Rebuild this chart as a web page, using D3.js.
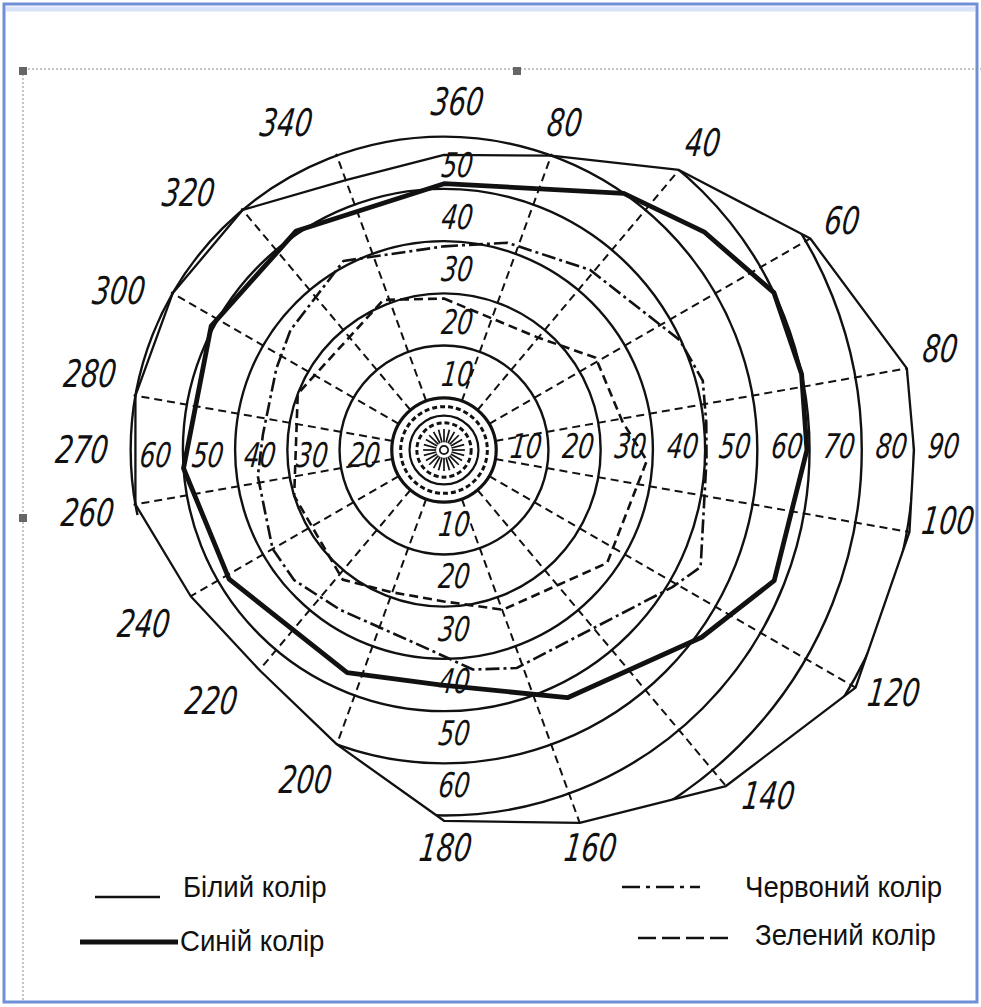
<!DOCTYPE html>
<html>
<head>
<meta charset="utf-8">
<script src="https://cdn.jsdelivr.net/npm/d3@7"></script>
<style>
  body { margin: 0; background: #fff; }
  svg { display: block; }
  .num { font-family: "DejaVu Sans Condensed", "DejaVu Sans", sans-serif; font-style: italic; fill: #111; }
  .legend text { font-family: "Liberation Sans", Arial, sans-serif; fill: #111; }
</style>
</head>
<body>
<svg id="drawing_region"></svg>
<script>
// grid of the perimeter chart (degrees from fixation)
const rings = [10, 20, 30, 40, 50, 60, 70, 80, 90];
const meridians = [20, 40, 60, 80, 100, 120, 140, 160, 200, 220, 240, 260, 280, 300, 320, 340];
const centreRings = [5.2, 6.6, 8.3];
const centreDashed = [true, false, true];

// meridian labels (as printed)
const meridianLabelAngles = [0, 20, 40, 60, 80, 100, 120, 140, 160, 180, 200, 220, 240, 260, 270, 280, 300, 320, 340];
const meridianLabels = ["360", "80", "40", "60", "80", "100", "120", "140", "160", "180", "200", "220", "240", "260", "270", "280", "300", "320", "340"];

// ring labels on the four sides
const ringLabelsRight = [10, 20, 30, 40, 50, 60, 70, 80, 90];
const ringLabelsLeft = [60, 50, 40, 30, 20];
const ringLabelsTop = [10, 20, 30, 40, 50];
const ringLabelsBottom = [10, 20, 30, 40, 50, 60];

// isopters: meridian angle (deg, clockwise from top) and field limit (deg)
const whiteAngles = [0, 20, 40, 60, 80, 90, 100, 120, 140, 160, 180, 200, 220, 240, 260, 280, 300, 320, 340];
const whiteValues = [56.5, 60, 70, 81, 90, 90, 90.5, 91, 84, 76, 71, 60, 55, 56, 60, 60, 60, 60, 55];

const blueAngles = [0, 35, 50, 64.5, 78, 90, 111.6, 126, 153.5, 181, 203.5, 239, 266, 298, 326];
const blueValues = [51, 60, 65, 70, 70, 69.5, 68, 61, 53, 45, 46.5, 48, 50, 50.5, 50.6];

const redAngles = [0, 17, 39, 65, 75, 84, 92, 114.5, 121, 161.6, 172.5, 186, 213, 229, 240, 262, 275, 296, 308, 332];
const redValues = [39, 41.5, 44.4, 49.8, 51.3, 50.5, 50.3, 54, 51, 44, 42.4, 37.9, 36.5, 38, 37.9, 36, 34.8, 35.7, 37.3, 41];

const greenAngles = [0, 39.5, 58.7, 81, 93, 124.7, 159.8, 180, 200, 218, 253, 291, 338];
const greenValues = [29, 28, 34, 34.6, 38.9, 38, 32.6, 29, 29, 31.5, 30, 30, 31];

const legendNames = ["Білий колір", "Синій колір", "Червоний колір", "Зелений колір"];

const config = {
    width: 981,
    height: 1007,
    cx: 444,
    cy: 450
};

const rad = a => a * Math.PI / 180;
const toPoints = (angles, values) => angles.map((a, i) => ({ a: a, v: values[i] }));
// narrow, slanted drawing-style digits
const numTransform = (x, y) => `translate(${x},${y}) skewX(-7) scale(0.8,1)`;

const svg = d3.select('#drawing_region')
    .attr('width', config.width)
    .attr('height', config.height);

// window frame and selection box
svg.append('rect')
    .attr('x', 4).attr('y', 4)
    .attr('width', 973).attr('height', 998)
    .attr('fill', 'none')
    .attr('stroke', '#6f8fd6')
    .attr('stroke-width', 3);
svg.append('line')
    .attr('x1', 6).attr('x2', 975).attr('y1', 9).attr('y2', 9)
    .attr('stroke', '#d9e3f7').attr('stroke-width', 5);
svg.append('path')
    .attr('d', 'M23,1000 V69 H981')
    .attr('fill', 'none')
    .attr('stroke', '#8a8a8a')
    .attr('stroke-width', 1)
    .attr('stroke-dasharray', '2,2');
[[23, 71], [517, 71], [23, 518]].forEach(p => {
    svg.append('rect')
        .attr('x', p[0] - 4).attr('y', p[1] - 4)
        .attr('width', 8).attr('height', 8)
        .attr('fill', '#666');
});

const r = d3.scaleLinear()
    .domain([0, 90])
    .range([0, 470]);

const chart = svg.append('g')
    .attr('transform', `translate(${config.cx}, ${config.cy})`);

const white = toPoints(whiteAngles, whiteValues);
const blue = toPoints(blueAngles, blueValues);
const red = toPoints(redAngles, redValues);
const green = toPoints(greenAngles, greenValues);

const radial = d3.lineRadial()
    .angle(d => rad(d.a))
    .radius(d => r(d.v))
    .curve(d3.curveLinearClosed);

// clip grid to the outer field (plus the 60 deg circle at the top)
const clip = svg.append('defs').append('clipPath').attr('id', 'field');
clip.append('path').attr('d', radial(white));
clip.append('path').attr('d', d3.arc()
    .innerRadius(0)
    .outerRadius(r(60) + 2)
    .startAngle(rad(258))
    .endAngle(rad(382))());

const grid = chart.append('g').attr('clip-path', 'url(#field)');

grid.selectAll('circle.ring')
    .data(rings)
    .enter()
    .append('circle')
    .attr('class', 'ring')
    .attr('r', d => r(d))
    .attr('fill', 'none')
    .attr('stroke', '#111')
    .attr('stroke-width', d => d == 10 ? 3.2 : 2.4);

grid.selectAll('line.meridian')
    .data(meridians)
    .enter()
    .append('line')
    .attr('class', 'meridian')
    .attr('x1', d => r(10) * Math.sin(rad(d)))
    .attr('y1', d => -r(10) * Math.cos(rad(d)))
    .attr('x2', d => r(100) * Math.sin(rad(d)))
    .attr('y2', d => -r(100) * Math.cos(rad(d)))
    .attr('stroke', '#111')
    .attr('stroke-width', 2)
    .attr('stroke-dasharray', '8,5');

// small marks inside 10 deg
chart.selectAll('circle.centre')
    .data(centreRings)
    .enter()
    .append('circle')
    .attr('class', 'centre')
    .attr('r', d => r(d))
    .attr('fill', 'none')
    .attr('stroke', '#111')
    .attr('stroke-width', (d, i) => centreDashed[i] ? 3 : 2.2)
    .attr('stroke-dasharray', (d, i) => centreDashed[i] ? '5,3' : null);

chart.selectAll('line.spike')
    .data(d3.range(0, 360, 15))
    .enter()
    .append('line')
    .attr('class', 'spike')
    .attr('x1', d => r(1.5) * Math.sin(rad(d)))
    .attr('y1', d => -r(1.5) * Math.cos(rad(d)))
    .attr('x2', d => r(4) * Math.sin(rad(d)))
    .attr('y2', d => -r(4) * Math.cos(rad(d)))
    .attr('stroke', '#111')
    .attr('stroke-width', 1.7);

chart.append('circle')
    .attr('r', r(0.8))
    .attr('fill', 'none')
    .attr('stroke', '#111')
    .attr('stroke-width', 1.7);

// isopters
const styles = [
    { data: white, width: 2.3, dash: null },
    { data: blue, width: 4.8, dash: null },
    { data: red, width: 2.6, dash: '14,4,3,4' },
    { data: green, width: 2.6, dash: '9,5' }
];

chart.selectAll('path.isopter')
    .data(styles)
    .enter()
    .append('path')
    .attr('class', 'isopter')
    .attr('d', d => radial(d.data))
    .attr('fill', 'none')
    .attr('stroke', '#111')
    .attr('stroke-width', d => d.width)
    .attr('stroke-linejoin', 'round')
    .attr('stroke-dasharray', d => d.dash);

// ring labels
chart.selectAll('text.rr')
    .data(ringLabelsRight)
    .enter()
    .append('text')
    .attr('class', 'num')
    .attr('transform', d => numTransform(r(d) + 13, 8))
    .attr('font-size', 34)
    .text(d => d);

chart.selectAll('text.rl')
    .data(ringLabelsLeft)
    .enter()
    .append('text')
    .attr('class', 'num')
    .attr('transform', d => numTransform(-r(d) + 8, 17))
    .attr('font-size', 34)
    .text(d => d);

chart.selectAll('text.rt')
    .data(ringLabelsTop)
    .enter()
    .append('text')
    .attr('class', 'num')
    .attr('transform', d => numTransform(12, -r(d) - 12))
    .attr('text-anchor', 'middle')
    .attr('font-size', 34)
    .text(d => d);

chart.selectAll('text.rb')
    .data(ringLabelsBottom)
    .enter()
    .append('text')
    .attr('class', 'num')
    .attr('transform', d => numTransform(9, r(d) + 34))
    .attr('text-anchor', 'middle')
    .attr('font-size', 34)
    .text(d => d);

// meridian labels just outside the field limit (small hand-placement turns)
const whiteAt = a => {
    const i = whiteAngles.indexOf(a);
    return i >= 0 ? whiteValues[i] : 60;
};
const labelTurns = { 0: 2, 80: -1.5, 100: -2, 120: -1.5, 140: -3, 200: 3, 220: 3, 280: 2, 300: -4, 320: -5, 340: -6 };
const labelGaps = { 200: 45, 220: 30 };
const labelGap = a => labelGaps[a] || ((a >= 250 && a <= 350) ? 50 : (a >= 150 && a <= 190) ? 27 : 35);
const labelTurn = a => labelTurns[a] || 0;
const labelR = a => r(Math.max(whiteAt(a), 60)) + labelGap(a);

chart.selectAll('text.mer')
    .data(meridianLabelAngles)
    .enter()
    .append('text')
    .attr('class', 'num')
    .attr('transform', d => numTransform(
        labelR(d) * Math.sin(rad(d + labelTurn(d))),
        -labelR(d) * Math.cos(rad(d + labelTurn(d))) + 13))
    .attr('text-anchor', 'middle')
    .attr('font-size', 38)
    .text((d, i) => meridianLabels[i]);

// legend
const legend = svg.append('g').attr('class', 'legend');
const legendItems = [
    { x1: 95, x2: 160, y: 897, tx: 183, ty: 897, width: 2.3, dash: null },
    { x1: 80, x2: 178, y: 942, tx: 180, ty: 951, width: 4.8, dash: null },
    { x1: 622, x2: 700, y: 887, tx: 745, ty: 897, width: 2.6, dash: '18,6,4,6' },
    { x1: 638, x2: 728, y: 938, tx: 755, ty: 945, width: 2.6, dash: '18,6' }
];
legendItems.forEach((d, i) => {
    legend.append('line')
        .attr('x1', d.x1).attr('x2', d.x2)
        .attr('y1', d.y).attr('y2', d.y)
        .attr('stroke', '#111')
        .attr('stroke-width', d.width)
        .attr('stroke-dasharray', d.dash);
    legend.append('text')
        .attr('transform', `translate(${d.tx},${d.ty}) scale(0.92,1)`)
        .attr('font-size', 30)
        .text(legendNames[i]);
});
</script>
</body>
</html>
